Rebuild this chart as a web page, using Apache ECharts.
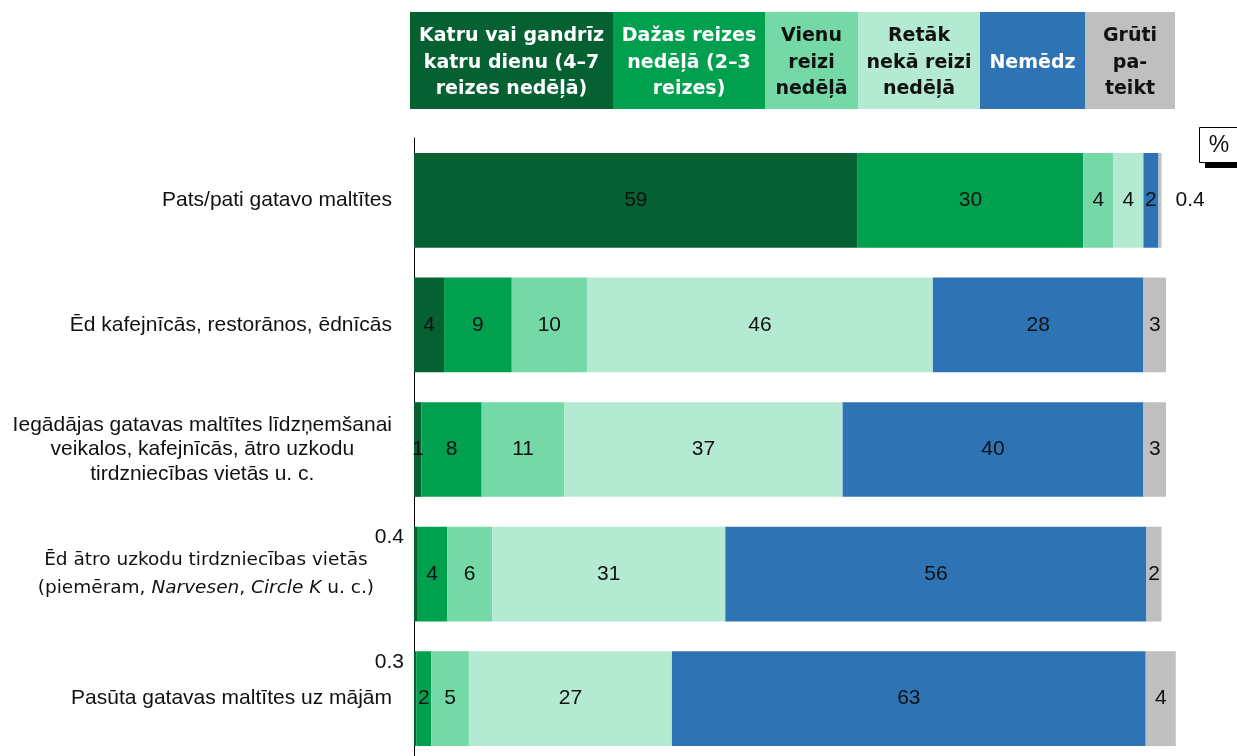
<html>
<head>
    <meta charset='utf-8'/>
    <title>Maltītes</title>
    <style>
        body {
            margin: 0;
            padding: 0;
            background: #fff;
        }

        #chart {
            width: 1237px;
            height: 756px;
        }
    </style>
</head>
<body>
<div id='chart'></div>
<script type="text/javascript" src="https://cdn.jsdelivr.net/npm/echarts@6/dist/echarts.min.js"></script>
<script type="text/javascript">
    var categories = [
        'Pats/pati gatavo maltītes',
        'Ēd kafejnīcās, restorānos, ēdnīcās',
        'Iegādājas gatavas maltītes līdzņemšanai\nveikalos, kafejnīcās, ātro uzkodu\ntirdzniecības vietās u. c.',
        'Ēd ātro uzkodu tirdzniecības vietās\n(piemēram, Narvesen, Circle K u. c.)',
        'Pasūta gatavas maltītes uz mājām'
    ];
    var seriesNames = [
        'Katru vai gandrīz\nkatru dienu (4–7\nreizes nedēļā)',
        'Dažas reizes\nnedēļā (2–3\nreizes)',
        'Vienu\nreizi\nnedēļā',
        'Retāk\nnekā reizi\nnedēļā',
        'Nemēdz',
        'Grūti\npa-\nteikt'
    ];
    var everyDay = [59, 4, 1, 0.4, 0.3];
    var fewTimesWeek = [30, 9, 8, 4, 2];
    var onceWeek = [4, 10, 11, 6, 5];
    var lessThanWeekly = [4, 46, 37, 31, 27];
    var never = [2, 28, 40, 56, 63];
    var hardToSay = [0.4, 3, 3, 2, 4];

    var values = [everyDay, fewTimesWeek, onceWeek, lessThanWeekly, never, hardToSay];
    var colors = ['#066132', '#00a04f', '#74d9a6', '#b3ead1', '#2e74b5', '#bfbfbf'];
    var legendText = ['#fff', '#fff', '#111', '#111', '#fff', '#111'];
    var legendEdges = [410, 613, 765, 858, 980, 1085, 1175];

    // small shares drawn next to the bar instead of inside
    var outsideLabels = {
        '0-5': {position: 'right', distance: 14},
        '3-0': {position: 'left', distance: 10, offset: [0, -37]},
        '4-0': {position: 'left', distance: 10, offset: [0, -36]}
    };

    var chart = echarts.init(document.getElementById('chart'));

    function categoryLabel(value, idx) {
        var alt = idx === 3;
        return value.split('\n').map(function (line) {
            return line.split(/(Narvesen|Circle K)/).filter(function (p) {
                return p.length;
            }).map(function (p) {
                var italic = p === 'Narvesen' || p === 'Circle K';
                return '{' + (alt ? (italic ? 'di' : 'd') : 'c') + '|' + p + '}';
            }).join('') + (alt ? '{sp| }' : '');
        }).join('\n');
    }

    var series = values.map(function (arr, s) {
        return {
            name: seriesNames[s],
            type: 'bar',
            stack: 'total',
            clip: false,
            barCategoryGap: '24%',
            itemStyle: {color: colors[s]},
            label: {
                show: true,
                position: 'inside',
                formatter: '{c}',
                color: '#111',
                fontSize: 21,
                fontFamily: 'Liberation Sans'
            },
            data: arr.map(function (v, r) {
                var o = outsideLabels[r + '-' + s];
                return o ? {value: v, label: o} : v;
            })
        };
    });

    var graphic = [];
    seriesNames.forEach(function (name, i) {
        var x0 = legendEdges[i], x1 = legendEdges[i + 1];
        graphic.push({
            type: 'rect',
            shape: {x: x0, y: 12, width: x1 - x0, height: 97},
            style: {fill: colors[i]}
        });
        graphic.push({
            type: 'text',
            x: (x0 + x1) / 2,
            y: 63,
            style: {
                text: name,
                fill: legendText[i],
                fontFamily: 'DejaVu Sans',
                fontWeight: 'bold',
                fontSize: 19,
                lineHeight: 26.5,
                align: 'center',
                textAlign: 'center',
                verticalAlign: 'middle',
                textVerticalAlign: 'middle'
            }
        });
    });
    graphic.push({
        type: 'rect',
        shape: {x: 1205, y: 133, width: 40, height: 35},
        style: {fill: '#000'}
    });
    graphic.push({
        type: 'rect',
        shape: {x: 1199.5, y: 127.5, width: 40, height: 35},
        style: {fill: '#fff', stroke: '#000', lineWidth: 1}
    });
    graphic.push({
        type: 'text',
        x: 1219,
        y: 146,
        style: {
            text: '%',
            fill: '#111',
            fontFamily: 'Liberation Sans',
            fontSize: 23,
            align: 'center',
            textAlign: 'center',
            verticalAlign: 'middle',
            textVerticalAlign: 'middle'
        }
    });

    var option = {
        backgroundColor: '#fff',
        animation: false,
        grid: {
            left: 414,
            top: 138,
            right: 71,
            height: 623,
            outerBoundsMode: 'none'
        },
        xAxis: {
            type: 'value',
            min: 0,
            max: 100,
            show: false
        },
        yAxis: {
            type: 'category',
            inverse: true,
            data: categories,
            axisLine: {lineStyle: {color: '#000', width: 1}},
            axisTick: {length: 5, lineStyle: {color: '#000'}},
            axisLabel: {
                margin: 22,
                formatter: categoryLabel,
                rich: {
                    c: {
                        fontFamily: 'Liberation Sans',
                        fontSize: 21,
                        color: '#111',
                        align: 'center',
                        lineHeight: 24.5
                    },
                    d: {
                        fontFamily: 'DejaVu Sans',
                        fontSize: 18.5,
                        color: '#111',
                        align: 'center',
                        lineHeight: 28
                    },
                    di: {
                        fontFamily: 'DejaVu Sans',
                        fontStyle: 'italic',
                        fontSize: 18.5,
                        color: '#111',
                        align: 'center',
                        lineHeight: 28
                    },
                    sp: {
                        width: 18,
                        align: 'right',
                        lineHeight: 28
                    }
                }
            }
        },
        series: series,
        graphic: graphic
    };

    chart.setOption(option);
</script>
</body>
</html>
